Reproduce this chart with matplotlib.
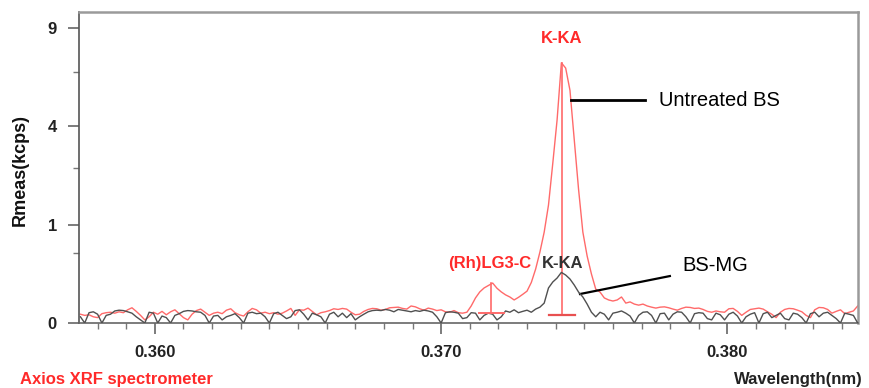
import numpy as np
import matplotlib
matplotlib.use('Agg')
import matplotlib.pyplot as plt
from matplotlib.ticker import FixedLocator, MultipleLocator, FormatStrFormatter

plt.rcParams['font.family'] = ['Liberation Sans', 'DejaVu Sans']

# scan grid (nm)
wl_start = 0.3574
wl_step = 0.00015

# Untreated BS, kcps
untreated = [
    0.008, 0.006, 0.007, 0.004, 0.003, 0.009, 0.011, 0.012, 0.010, 0.013,
    0.011, 0.018, 0.024, 0.014, 0.006, 0.001, 0.004, 0.012, 0.008, 0.014,
    0.007, 0.013, 0.018, 0.009, 0.003, 0.001, 0.008, 0.016, 0.020, 0.012,
    0.006, 0.010, 0.012, 0.009, 0.017, 0.021, 0.011, 0.007, 0.005, 0.013,
    0.022, 0.018, 0.010, 0.012, 0.009, 0.011, 0.008, 0.010, 0.015, 0.022,
    0.006, 0.018, 0.017, 0.023, 0.014, 0.007, 0.011, 0.013, 0.016, 0.021,
    0.019, 0.022, 0.020, 0.012, 0.007, 0.008, 0.014, 0.019, 0.022, 0.021,
    0.017, 0.019, 0.024, 0.025, 0.026, 0.022, 0.020, 0.030, 0.027, 0.021,
    0.017, 0.023, 0.020, 0.016, 0.018, 0.013, 0.012, 0.016, 0.011, 0.010,
    0.012, 0.030, 0.065, 0.100, 0.127, 0.145, 0.165, 0.125, 0.100, 0.082,
    0.070, 0.055, 0.068, 0.085, 0.105, 0.170, 0.300, 0.520, 0.855, 1.440,
    2.640, 4.260, 7.000, 6.720, 5.600, 3.460, 1.850, 0.855, 0.464, 0.248,
    0.119, 0.099, 0.065, 0.055, 0.050, 0.055, 0.070, 0.041, 0.046, 0.037,
    0.033, 0.037, 0.030, 0.026, 0.023, 0.026, 0.027, 0.024, 0.020, 0.017,
    0.022, 0.026, 0.025, 0.022, 0.023, 0.019, 0.014, 0.012, 0.015, 0.013,
    0.012, 0.021, 0.022, 0.014, 0.006, 0.012, 0.019, 0.021, 0.023, 0.020,
    0.013, 0.008, 0.003, 0.012, 0.019, 0.022, 0.021, 0.017, 0.013, 0.006,
    0.003, 0.018, 0.025, 0.024, 0.019, 0.010, 0.014, 0.018, 0.009, 0.012,
    0.015, 0.030,
]

# BS-MG, kcps
bs_mg = [
    0.004, 0.000, 0.011, 0.013, 0.008, 0.000, 0.006, 0.008, 0.015, 0.017,
    0.016, 0.013, 0.010, 0.004, 0.001, 0.000, 0.012, 0.010, 0.000, 0.005,
    0.003, 0.000, 0.006, 0.009, 0.014, 0.016, 0.015, 0.013, 0.012, 0.006,
    0.000, 0.005, 0.006, 0.001, 0.004, 0.006, 0.009, 0.003, 0.000, 0.010,
    0.012, 0.009, 0.010, 0.004, 0.000, 0.009, 0.012, 0.006, 0.002, 0.004,
    0.016, 0.018, 0.008, 0.001, 0.010, 0.007, 0.004, 0.000, 0.008, 0.012,
    0.004, 0.010, 0.003, 0.009, 0.001, 0.004, 0.008, 0.013, 0.016, 0.017,
    0.016, 0.019, 0.017, 0.013, 0.019, 0.017, 0.015, 0.013, 0.016, 0.014,
    0.017, 0.015, 0.012, 0.004, 0.000, 0.011, 0.013, 0.012, 0.010, 0.002,
    0.003, 0.011, 0.010, 0.001, 0.006, 0.010, 0.008, 0.001, 0.004, 0.015,
    0.012, 0.018, 0.011, 0.014, 0.017, 0.012, 0.020, 0.026, 0.041, 0.127,
    0.174, 0.209, 0.265, 0.238, 0.200, 0.149, 0.099, 0.070, 0.037, 0.012,
    0.004, 0.012, 0.008, 0.001, 0.010, 0.012, 0.015, 0.010, 0.005, 0.000,
    0.006, 0.012, 0.013, 0.006, 0.000, 0.009, 0.010, 0.001, 0.008, 0.013,
    0.012, 0.004, 0.000, 0.009, 0.011, 0.010, 0.002, 0.001, 0.010, 0.007,
    0.001, 0.008, 0.012, 0.005, 0.000, 0.004, 0.008, 0.011, 0.000, 0.009,
    0.012, 0.003, 0.006, 0.010, 0.002, 0.001, 0.010, 0.008, 0.003, 0.000,
    0.009, 0.012, 0.004, 0.010, 0.012, 0.006, 0.002, 0.000, 0.010, 0.008,
    0.006, 0.000,
]

# identified lines: (position nm, marker base, marker top)
kka_pos, kka_base = 0.37422, 0.0066
rh_pos, rh_base, rh_top = 0.37175, 0.0103, 0.165

wl = wl_start + wl_step * np.arange(len(untreated))
kka_top = max(untreated)

red = '#ff6a6a'
red_txt = '#ff2a2a'
grey = '#505050'

fig = plt.figure(figsize=(8.69, 3.88), dpi=100)
ax = fig.add_axes([0.0909, 0.1675, 0.8964, 0.8015])
ax.set_yscale('function', functions=(np.sqrt, np.square))

ax.plot(wl, untreated, color=red, lw=1.0, zorder=2)
ax.plot(wl, bs_mg, color=grey, lw=1.0, zorder=3)

# line markers
ax.plot([kka_pos, kka_pos], [kka_base, kka_top], color=red, lw=1.2, zorder=2)
ax.plot([kka_pos - 0.00044, kka_pos + 0.00044], [kka_base, kka_base], color='#e85050', lw=1.6, zorder=4)
ax.plot([rh_pos, rh_pos], [rh_base, rh_top], color=red, lw=1.2, zorder=2)
ax.plot([rh_pos - 0.00044, rh_pos + 0.00044], [rh_base, rh_base], color=red, lw=1.4, zorder=4)

ax.text(kka_pos, 8.39, 'K-KA', color=red_txt, fontsize=12, fontweight='bold', ha='center', va='center')
ax.text(0.37314, 0.372, '(Rh)LG3-C', color=red_txt, fontsize=12, fontweight='bold', ha='right', va='center')
ax.text(0.37426, 0.372, 'K-KA', color='#333333', fontsize=12, fontweight='bold', ha='center', va='center')

# series callouts
ax.plot([0.37454, 0.37712], [5.14, 5.14], color='black', lw=2.0)
ax.text(0.37761, 5.14, 'Untreated BS', color='black', fontsize=14.5, ha='left', va='center')
ax.plot([0.37485, 0.37799], [0.0869, 0.228], color='black', lw=1.6)
ax.text(0.37841, 0.347, 'BS-MG', color='black', fontsize=14.5, ha='left', va='center')

ax.set_xlim(0.35735, 0.38456)
ax.set_ylim(0, 10)
ax.yaxis.set_major_locator(FixedLocator([0, 1, 4, 9]))
ax.yaxis.set_minor_locator(FixedLocator([0.5, 2.5, 6.5]))
ax.yaxis.set_major_formatter(FormatStrFormatter('%d'))
ax.yaxis.set_minor_formatter(plt.NullFormatter())
ax.xaxis.set_major_locator(MultipleLocator(0.01))
ax.xaxis.set_minor_locator(MultipleLocator(0.001))
ax.xaxis.set_major_formatter(FormatStrFormatter('%.3f'))

ax.tick_params(axis='both', which='major', direction='out', length=8, width=1.2,
               color='#666666', labelsize=12, labelcolor='#222222', pad=8)
ax.tick_params(axis='both', which='minor', direction='out', length=4.5, width=1.0, color='#777777')
for lab in ax.get_xticklabels() + ax.get_yticklabels():
    lab.set_fontweight('bold')

ax.spines['left'].set_color('#555555')
ax.spines['left'].set_linewidth(1.2)
ax.spines['bottom'].set_color('#666666')
ax.spines['bottom'].set_linewidth(1.2)
ax.spines['top'].set_color('#9a9a9a')
ax.spines['top'].set_linewidth(1.8)
ax.spines['right'].set_color('#9a9a9a')
ax.spines['right'].set_linewidth(1.8)

fig.text(0.023, 0.562, 'Rmeas(kcps)', rotation=90, fontsize=13, fontweight='bold',
         color='#111111', ha='center', va='center')
fig.text(0.023, 0.023, 'Axios XRF spectrometer', fontsize=12, fontweight='bold',
         color=red_txt, ha='left', va='center')
fig.text(0.993, 0.023, 'Wavelength(nm)', fontsize=12, fontweight='bold',
         color='#222222', ha='right', va='center')

fig.savefig('out.png', dpi=100)
